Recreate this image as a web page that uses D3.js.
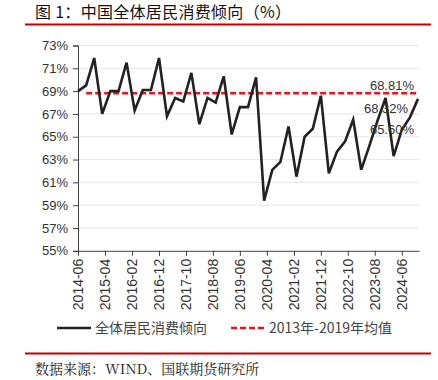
<!DOCTYPE html>
<html><head><meta charset="utf-8">
<script src="https://cdn.jsdelivr.net/npm/d3@7"></script>
<style>
html,body{margin:0;padding:0;background:#fff;}
svg{display:block;}
</style></head>
<body>
<svg id="c" width="438" height="380"></svg>
<script>
// ---- data ----
const periods = ["2014-06","2014-09","2014-12","2015-03","2015-06","2015-09","2015-12",
"2016-03","2016-06","2016-09","2016-12","2017-03","2017-06","2017-09","2017-12",
"2018-03","2018-06","2018-09","2018-12","2019-03","2019-06","2019-09","2019-12",
"2020-03","2020-06","2020-09","2020-12","2021-03","2021-06","2021-09","2021-12",
"2022-03","2022-06","2022-09","2022-12","2023-03","2023-06","2023-09","2023-12",
"2024-03","2024-06","2024-09","2024-12"];
const propensity = [69.0,69.5,71.9,67.0,69.0,69.0,71.5,
67.3,69.1,69.1,71.9,66.8,68.4,68.1,70.6,
66.1,68.4,68.0,70.3,65.2,67.6,67.6,70.2,
59.4,62.1,62.8,65.9,61.5,65.0,65.7,68.6,
61.8,63.7,64.6,66.5,62.1,64.2,66.4,68.4,
63.3,65.6,66.7,68.32];
const avgPeriods = ["2014-09","2024-12"];
const avgValue = 68.81;
const xTickLabels = ["2014-06","2015-04","2016-02","2016-12","2017-10","2018-08","2019-06",
"2020-04","2021-02","2021-12","2022-10","2023-08","2024-06"];
const yTicks = [55,57,59,61,63,65,67,69,71,73];
const annotations = [
  {text:"68.81%", period:"2024-12", value:68.81, dx:-4, dy:-3},
  {text:"68.32%", period:"2024-12", value:68.32, dx:-10, dy:14},
  {text:"65.60%", period:"2024-12", value:65.60, dx:-4, dy:4}
];
const title = "图 1：中国全体居民消费倾向（%）";
const legendLabels = ["全体居民消费倾向","2013年-2019年均值"];
const source = "数据来源：WIND、国联期货研究所";

// ---- drawing ----
const parse = d3.timeParse("%Y-%m");
const svg = d3.select("#c");
const latin = "'Liberation Sans', Arial, sans-serif";
const cjk = "'Noto Sans CJK SC', sans-serif";

const x = d3.scaleTime().domain([parse("2014-06"), parse("2024-12")]).range([78, 418]);
const y = d3.scaleLinear().domain([55, 73]).range([250.8, 45.5]);

// title
svg.append("text").attr("x",35).attr("y",18).attr("font-family",cjk).attr("font-size",16)
  .attr("letter-spacing",0.3).attr("xml:space","preserve").style("white-space","pre")
  .attr("fill","#111").text(title);
svg.append("line").attr("x1",25).attr("x2",431).attr("y1",24.5).attr("y2",24.5)
  .attr("stroke","#c00000").attr("stroke-width",2);

// gridlines
svg.append("g").selectAll("line").data(yTicks.filter(d=>d!==55)).join("line")
  .attr("x1",78).attr("x2",419).attr("y1",d=>y(d)).attr("y2",d=>y(d))
  .attr("stroke","#e6e6e6").attr("stroke-width",1);

// y axis
const yAxis = d3.axisLeft(y).tickValues(yTicks).tickFormat(d=>d+"%").tickSize(5).tickPadding(5);
const gy = svg.append("g").attr("transform","translate(78,0)").call(yAxis);
gy.select(".domain").attr("stroke","#404040");
gy.selectAll(".tick line").attr("stroke","#404040");
gy.selectAll("text").attr("font-family",latin).attr("font-size",13).attr("fill","#333");

// x axis
const xAxis = d3.axisBottom(x).tickValues(xTickLabels.map(parse)).tickFormat(d3.timeFormat("%Y-%m"))
  .tickSize(5).tickSizeOuter(0);
const gx = svg.append("g").attr("transform",`translate(0,${y(55)})`).call(xAxis);
gx.select(".domain").attr("stroke","#404040").attr("d","M78,0.5H419.5");
gx.selectAll(".tick line").attr("stroke","#404040");
gx.selectAll("text").attr("font-family",latin).attr("font-size",14).attr("fill","#333")
  .attr("transform","rotate(-90)").attr("text-anchor","end")
  .attr("x",-8).attr("y",0).attr("dy","0.35em");

// average dashed line
svg.append("line")
  .attr("x1",x(parse(avgPeriods[0]))).attr("x2",x(parse(avgPeriods[1])))
  .attr("y1",y(avgValue)).attr("y2",y(avgValue))
  .attr("stroke","#e8141b").attr("stroke-width",2.5).attr("stroke-dasharray","6,3");

// main line
const line = d3.line().x((d,i)=>x(parse(periods[i]))).y(d=>y(d));
svg.append("path").datum(propensity).attr("d",line).attr("fill","none")
  .attr("stroke","#222").attr("stroke-width",2.6).attr("stroke-linejoin","miter");

// annotations
svg.append("g").selectAll("text").data(annotations).join("text")
  .attr("x",d=>x(parse(d.period))+d.dx).attr("y",d=>y(d.value)+d.dy)
  .attr("text-anchor","end").attr("font-family",latin).attr("font-size",13)
  .attr("fill","#333").text(d=>d.text);

// legend
const lg = svg.append("g");
lg.append("line").attr("x1",57).attr("x2",91).attr("y1",328).attr("y2",328)
  .attr("stroke","#222").attr("stroke-width",2.6);
lg.append("text").attr("x",95).attr("y",333).attr("font-family",cjk).attr("font-size",14)
  .attr("fill","#444").text(legendLabels[0]);
lg.append("line").attr("x1",231).attr("x2",266).attr("y1",328).attr("y2",328)
  .attr("stroke","#e8141b").attr("stroke-width",2.5).attr("stroke-dasharray","6,3");
lg.append("text").attr("x",269).attr("y",333).attr("font-family",cjk).attr("font-size",14)
  .attr("fill","#444").text(legendLabels[1]);

// bottom rule and source
svg.append("line").attr("x1",25).attr("x2",431).attr("y1",353.5).attr("y2",353.5)
  .attr("stroke","#c00000").attr("stroke-width",2);
svg.append("text").attr("x",35).attr("y",374).attr("font-family","'Noto Serif CJK SC', "+cjk)
  .attr("font-size",14).attr("fill","#222").text(source);
</script>
</body></html>
